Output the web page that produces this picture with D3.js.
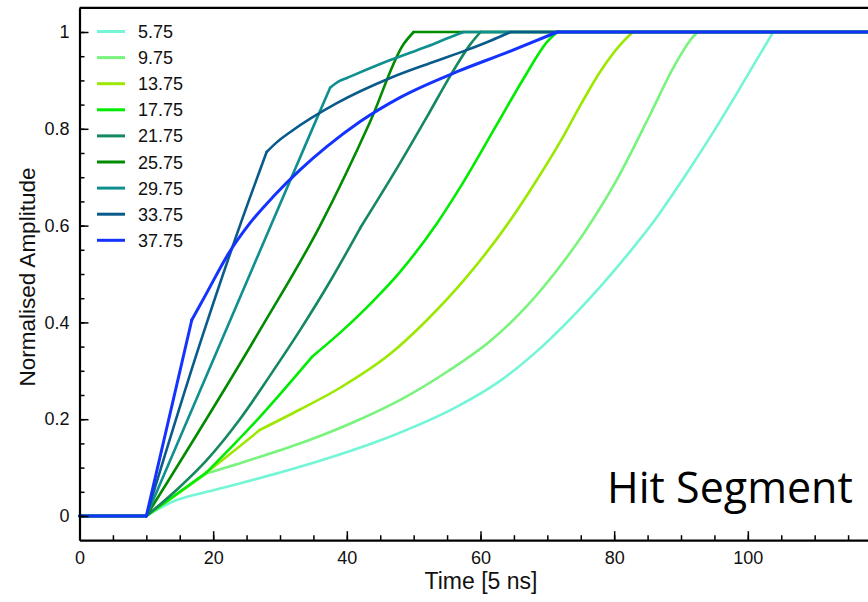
<!DOCTYPE html>
<html>
<head>
<meta charset="utf-8">
<script src="https://cdn.jsdelivr.net/npm/d3@7"></script>
<style>
  body { margin: 0; background: #fff; }
  svg { display: block; font-family: "Liberation Sans", Arial, sans-serif; }
</style>
</head>
<body>
<div id="chart"></div>
<script>
// legend labels (series names)
var seriesNames = ["5.75", "9.75", "13.75", "17.75", "21.75", "25.75", "29.75", "33.75", "37.75"];
var seriesColors = ["#74f6d6", "#78f47c", "#9be800", "#00ec00", "#16885f", "#008b00", "#0f8f8f", "#0a5b8b", "#1433ff"];

// rising part of each pulse [time, amplitude]
var rise575 = [[10,0],[14,0.03],[20,0.053],[29,0.086],[38,0.123],[47,0.167],[56.5,0.226],[62.5,0.275],[68,0.335],[74,0.415],[78,0.475],[82,0.54],[86,0.61],[90,0.69],[94,0.775],[98,0.865],[101,0.935],[103.8,1]];
var rise975 = [[10,0],[19,0.088],[26,0.118],[34,0.155],[42,0.2],[48,0.24],[55,0.298],[61.5,0.362],[66,0.42],[71,0.5],[75.5,0.585],[80,0.685],[85.4,0.83],[89,0.93],[91.5,0.985],[92.5,1]];
var rise1375 = [[10,0],[19,0.09],[27,0.178],[33,0.22],[39,0.265],[46.5,0.335],[52,0.405],[58,0.495],[64.4,0.61],[68,0.685],[72,0.775],[75,0.85],[78,0.92],[81,0.975],[82.8,1]];
var rise1775 = [[10,0],[19,0.09],[27,0.205],[34.8,0.329],[39.5,0.385],[44,0.445],[48,0.505],[53.5,0.605],[57,0.68],[62.5,0.81],[66.5,0.905],[70,0.98],[71.5,1]];
var rise2175 = [[10,0],[15,0.06],[19,0.115],[24,0.2],[28.5,0.29],[33,0.384],[37.5,0.485],[42,0.595],[48,0.73],[52,0.825],[55.5,0.91],[58.5,0.975],[60,1]];
var rise2575 = [[10,0],[27,0.384],[36,0.6],[43.5,0.815],[48.5,0.975],[50,1]];
var rise2975 = [[10,0],[21.3,0.364],[35,0.805],[37.5,0.885],[38.8,0.898],[40,0.905],[46.5,0.942],[52,0.97],[56.5,0.995],[57.5,1]];
var rise3375 = [[10,0],[18,0.355],[24,0.6],[28,0.752],[29.5,0.772],[31.5,0.793],[38.5,0.853],[46.5,0.905],[52.5,0.936],[58,0.963],[61.5,0.982],[64.5,1]];
var rise3775 = [[10,0],[16.8,0.405],[19,0.46],[22.2,0.54],[25.5,0.605],[29,0.66],[33,0.715],[37,0.763],[42,0.815],[48,0.865],[56.5,0.918],[64,0.958],[71.5,1]];

var allRises = [rise575, rise975, rise1375, rise1775, rise2175, rise2575, rise2975, rise3375, rise3775];
// times where a curve has a sharp bend
var seriesKinks = [[], [19], [27], [19, 34.8], [42], [], [37.5], [28], [16.8]];

var xMajorTicks = [0, 20, 40, 60, 80, 100];
var yMajorTicks = [0, 0.2, 0.4, 0.6, 0.8, 1];

const width = 868;
const height = 602;

var x = d3.scaleLinear().domain([0, 120]).range([79.5, 881.5]);
var y = d3.scaleLinear().domain([-0.05, 1.05]).range([540.2, 7.8]);

var svg = d3.select("#chart")
    .append("svg")
    .attr("width", width)
    .attr("height", height);

var riseLine = d3.line()
    .x(function(d) { return x(d[0]); })
    .y(function(d) { return y(d[1]); })
    .curve(d3.curveMonotoneX);

var flatLine = d3.line()
    .x(function(d) { return x(d[0]); })
    .y(function(d) { return y(d[1]); });

// split a rise at its kinks so each piece is smoothed on its own
function pieces(r, kinks) {
  var out = [], cur = [];
  r.forEach(function(p) {
    cur.push(p);
    if (kinks.indexOf(p[0]) >= 0) { out.push(cur); cur = [p]; }
  });
  if (cur.length > 1) out.push(cur);
  return out;
}

// curves, 5.75 first so 37.75 ends on top
var curves = svg.append("g").attr("class", "curves");
allRises.forEach(function(r, i) {
  var first = r[0], last = r[r.length - 1];
  var g = curves.append("g")
      .style("fill", "none")
      .style("stroke", seriesColors[i])
      .style("stroke-width", i == 8 ? 3 : 2.6)
      .style("stroke-linejoin", "round")
      .style("stroke-linecap", "round");
  g.append("path").attr("d", flatLine([[0, 0], first]));
  pieces(r, seriesKinks[i]).forEach(function(p) {
    g.append("path").attr("d", riseLine(p));
  });
  g.append("path").attr("d", flatLine([last, [120, 1]]));
});

// axes
svg.append("g")
    .attr("transform", "translate(0," + y(-0.05) + ")")
    .call(d3.axisBottom(x).tickValues(xMajorTicks).tickSizeInner(-9).tickSizeOuter(0).tickPadding(11));

svg.append("g")
    .attr("transform", "translate(0," + y(-0.05) + ")")
    .call(d3.axisBottom(x).tickValues(d3.range(5, 120, 5)).tickSizeInner(-5).tickSizeOuter(0).tickFormat(""))
    .select(".domain").remove();

svg.append("g")
    .attr("transform", "translate(" + x(0) + ",0)")
    .call(d3.axisLeft(y).tickValues(yMajorTicks).tickSizeInner(-9).tickSizeOuter(0).tickPadding(10)
      .tickFormat(function(d) { return d3.format("")(+d.toFixed(1)); }));

svg.append("g")
    .attr("transform", "translate(" + x(0) + ",0)")
    .call(d3.axisLeft(y).tickValues(d3.range(0, 1.01, 0.05)).tickSizeInner(-5).tickSizeOuter(0).tickFormat(""))
    .select(".domain").remove();

svg.selectAll(".tick line").style("stroke", "#000").style("stroke-width", 1.5);
svg.selectAll(".domain").style("stroke", "#000").style("stroke-width", 2.2);
svg.selectAll(".tick text")
    .style("font-family", "'Liberation Sans', Arial, sans-serif")
    .style("font-size", "18px")
    .style("fill", "#111");

// top frame line
svg.append("line")
    .attr("x1", x(0)).attr("x2", width)
    .attr("y1", y(1.05)).attr("y2", y(1.05))
    .style("stroke", "#000")
    .style("stroke-width", 2.2);

// axis titles
svg.append("text")
    .attr("x", 481)
    .attr("y", 589)
    .attr("text-anchor", "middle")
    .style("font-size", "23px")
    .style("fill", "#111")
    .text("Time [5 ns]");

svg.append("text")
    .attr("transform", "translate(35," + 277 + ") rotate(-90)")
    .attr("text-anchor", "middle")
    .style("font-size", "22.5px")
    .style("fill", "#111")
    .text("Normalised Amplitude");

// legend
var legend = svg.append("g").attr("class", "legend")
    .selectAll("g")
    .data(seriesNames)
    .enter().append("g")
    .attr("transform", function(d, i) { return "translate(0," + (31.5 + i * 26.1) + ")"; });

legend.append("line")
    .attr("x1", 97).attr("x2", 125)
    .attr("y1", 0).attr("y2", 0)
    .style("stroke", function(d, i) { return seriesColors[i]; })
    .style("stroke-width", 3);

legend.append("text")
    .attr("x", 138)
    .attr("y", 6.5)
    .style("font-size", "18px")
    .style("fill", "#111")
    .text(function(d) { return d; });

// annotation
svg.append("text")
    .attr("x", 607)
    .attr("y", 503)
    .style("font-family", "'Open Sans', sans-serif")
    .style("font-size", "43px")
    .style("fill", "#000")
    .text("Hit Segment");
</script>
</body>
</html>
